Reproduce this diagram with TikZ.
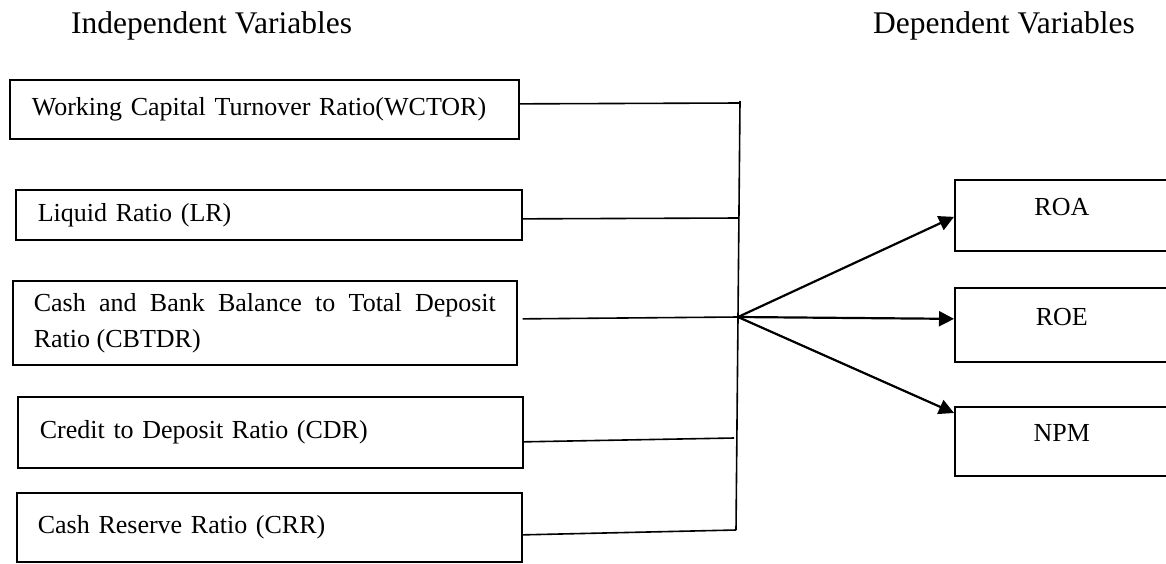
\documentclass[tikz,border=0pt]{standalone}
\usepackage{fontspec}
\setmainfont{Liberation Serif}
\usetikzlibrary{arrows.meta}

\begin{document}
\begin{tikzpicture}[x=1pt,y=-1pt,
  ivar/.style={draw,line width=1.7pt,anchor=north west,inner ysep=0pt,align=left,
    font=\fontsize{26}{36}\selectfont},
  dvar/.style={draw,line width=1.7pt,anchor=north west,inner sep=0pt,
    minimum width=214pt,text depth=16pt,font=\fontsize{26}{36}\selectfont},
  heading/.style={anchor=base west,inner sep=0pt,font=\fontsize{31.5}{38}\selectfont},
  link/.style={line width=1.6pt},
  effect/.style={line width=2.2pt,-{Triangle[length=15pt,width=15pt]}}
  ]
    \useasboundingbox (0,0) rectangle (1166,563);

    \node[heading] (indep) at (71,33) {Independent Variables};
    \node[heading] (dep) at (873,33) {Dependent Variables};

    \node[ivar,minimum width=509pt,minimum height=59pt,inner xsep=22pt,text width=465pt] (wctor) at (9,79)
        {Working Capital Turnover Ratio(WCTOR)};
    \node[ivar,minimum width=506pt,minimum height=50pt,inner xsep=22pt,text width=462pt] (lr) at (15,189)
        {Liquid Ratio (LR)};
    \node[ivar,align=justify,minimum width=504pt,minimum height=84pt,inner xsep=21pt,text width=462pt] (cbtdr) at (12,280)
        {Cash and Bank Balance to Total Deposit \mbox{Ratio} (CBTDR)};
    \node[ivar,minimum width=505pt,minimum height=71pt,inner xsep=22pt,text width=461pt] (cdr) at (17,396)
        {Credit to Deposit Ratio (CDR)};
    \node[ivar,minimum width=505pt,minimum height=69pt,inner xsep=21pt,text width=463pt] (crr) at (16,492)
        {Cash Reserve Ratio (CRR)};

    \node[dvar,minimum height=71pt] (roa) at (954,179) {ROA};
    \node[dvar,minimum height=74pt] (roe) at (954,287) {ROE};
    \node[dvar,minimum height=69pt] (npm) at (954,406) {NPM};

    \coordinate (bustop) at (740,101);
    \coordinate (hub) at (738,317);
    \coordinate (busbot) at (736,530);
    \coordinate (j1) at (740,103);
    \coordinate (j2) at (739,218);
    \coordinate (j4) at (734,438);

    \draw[link] (bustop) -- (hub) -- (busbot);
    \draw[link] ([yshift=5.5pt]wctor.east) -- (j1);
    \draw[link] ([yshift=-4pt]lr.east) -- (j2);
    \draw[link] ([xshift=5pt,yshift=4pt]cbtdr.east) -- (hub);
    \draw[link] ([xshift=-1pt,yshift=-9.5pt]cdr.east) -- (j4);
    \draw[link] ([yshift=-7.5pt]crr.east) -- (busbot);

    \draw[effect] (hub) -- ([yshift=-1.5pt]roa.west);
    \draw[effect] (hub) -- ([yshift=6pt]roe.west);
    \draw[effect] (hub) -- ([yshift=-7pt]npm.north west);
\end{tikzpicture}
\end{document}
